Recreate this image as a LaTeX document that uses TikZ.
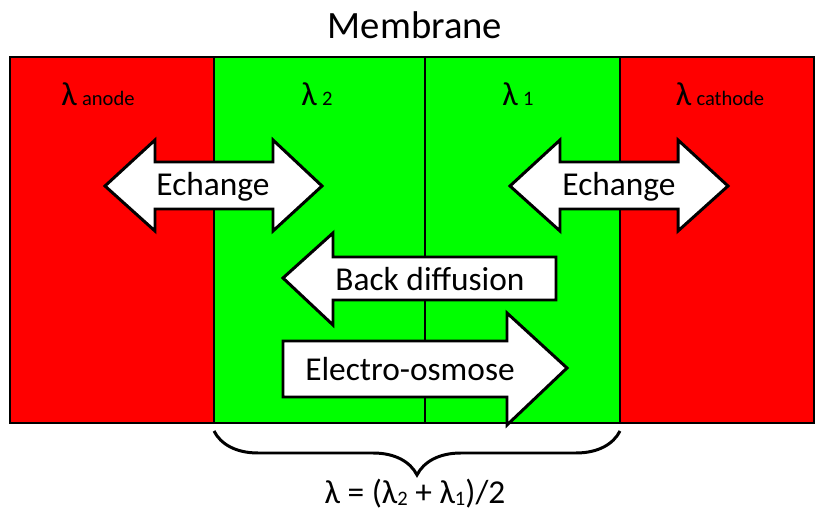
\documentclass[tikz,border=0pt]{standalone}
\usepackage{fontspec}
\setmainfont{Carlito}
\usetikzlibrary{decorations.pathreplacing}
\definecolor{Electrode}{HTML}{FF0000}
\definecolor{Membrane}{HTML}{00FF00}
\tikzset{zone/.style={draw=black,line width=.6pt},flux/.style={draw=black,fill=white,line width=1.7pt,line join=miter},txt/.style={inner sep=0pt,font=\fontsize{19}{22}\selectfont},lam/.style={inner sep=0pt,anchor=base,font=\fontsize{19}{22}\selectfont},brace/.style={decorate,decoration={brace,amplitude=.88cm},line width=1.7pt}}
\newcommand{\sub}[1]{{\fontsize{11.7}{13}\selectfont #1}}
\newcommand{\low}[1]{\raisebox{-1.5pt}{\sub{#1}}}

\begin{document}
\begin{tikzpicture}[x=.02cm,y=-.02cm]
  \useasboundingbox (0,0) rectangle (815,513);
  % anode, membrane, cathode
  \fill[Electrode] (10,57) rectangle (214,423);
  \fill[Membrane] (214,57) rectangle (620,423);
  \fill[Electrode] (620,57) rectangle (814,423);
  \draw[zone] (10,57) rectangle (814,423);
  \draw[zone] (214,57) -- (214,423) (425,57) -- (425,423) (620,57) -- (620,423);
  \node[inner sep=0pt,font=\fontsize{22}{26}\selectfont] (title) at (415,25) {Membrane};
  \node[lam] (lanode) at (98,106) {λ\kern3pt\sub{anode}};
  \node[lam] (ltwo) at (317,106) {λ\kern3pt\sub{2}};
  \node[lam] (lone) at (518,106) {λ\kern3pt\sub{1}};
  \node[lam] (lcathode) at (720,106) {λ\kern3pt\sub{cathode}};
  % fluxes
  \draw[flux] (105,186)--(155,140)--(155,162)--(273,162)--(273,140)--(322,186)--(273,231)--(273,209)--(155,209)--(155,231)--cycle;
  \node[txt] (echg1) at (213,187) {Echange};
  \draw[flux] (510,186)--(560,140)--(560,162)--(678,162)--(678,140)--(728,186)--(678,231)--(678,209)--(560,209)--(560,231)--cycle;
  \node[txt] (echg2) at (619,187) {Echange};
  \draw[flux] (283,278)--(333,233)--(333,257)--(556,257)--(556,300)--(333,300)--(333,325)--cycle;
  \node[txt] (back) at (430,279) {Back diffusion};
  \draw[flux] (283,341)--(507,341)--(507,313)--(567,368)--(507,425)--(507,397)--(283,397)--cycle;
  \node[txt] (osmo) at (410,369) {Electro-osmose};
  % mean water content
  \coordinate (bl) at (214,431);
  \coordinate (br) at (620,431);
  \draw[brace] (br) -- (bl);
  \node[lam] (mean) at (415,503) {λ = (λ\low{2} + λ\low{1})/2};
\end{tikzpicture}
\end{document}
